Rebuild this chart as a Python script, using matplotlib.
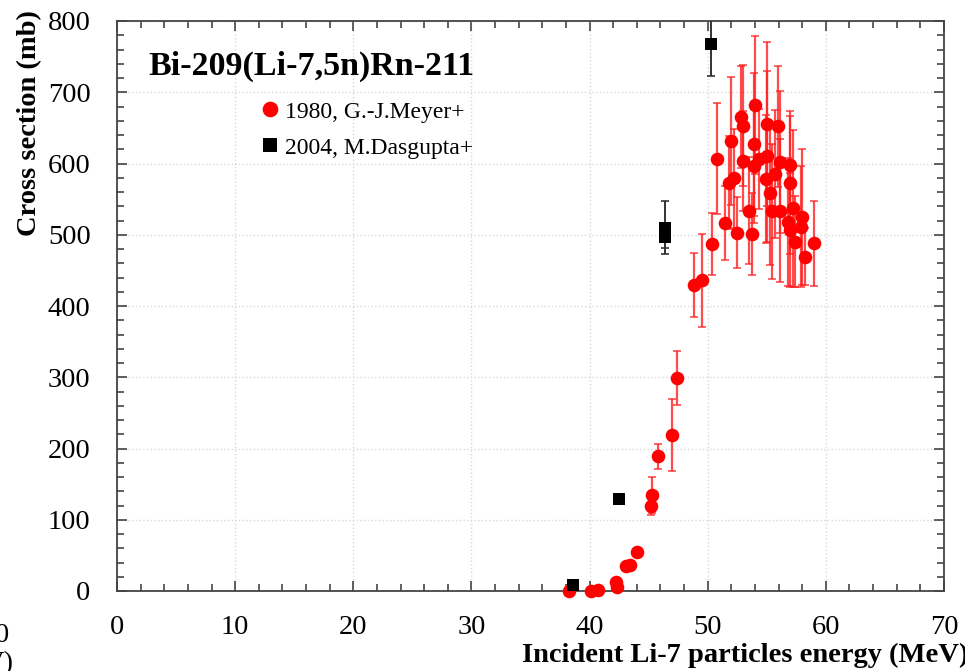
import numpy as np
import matplotlib
matplotlib.use("Agg")
import matplotlib.pyplot as plt
from matplotlib.ticker import MultipleLocator

plt.rcParams['font.family'] = ['Liberation Serif', 'DejaVu Serif']

# 1980, G.-J.Meyer+  (energy MeV, cross section mb, error mb)
meyerE = [38.3, 40.1, 40.7, 42.2, 42.3, 43.1, 43.4, 44.0, 45.2, 45.25,
          45.8, 47.0, 47.4, 48.8, 49.5, 50.4, 50.8, 51.5, 51.8, 51.95,
          52.2, 52.5, 52.85, 53.0, 53.0, 53.5, 53.75, 53.9, 54.0, 53.9,
          54.3, 55.0, 55.0, 54.97, 55.25, 55.4, 55.7, 55.98, 56.1, 56.1,
          57.0, 57.0, 57.2, 56.8, 57.0, 57.4, 57.97, 57.9, 58.2, 59.0]
meyerXS = [0, 0, 1, 12, 6, 35, 37, 55, 119, 135,
           189, 219, 299, 430, 436, 487, 607, 517, 573, 632,
           579, 503, 665, 653, 603, 534, 501, 627, 682, 597,
           606, 655, 610, 578, 558, 533, 585, 652, 602, 534,
           598, 573, 537, 518, 506, 490, 525, 511, 469, 488]
meyerErr = [0, 0, 0, 0, 0, 0, 0, 0, 12, 25,
            18, 50, 38, 45, 65, 43, 78, 52, 65, 90,
            70, 50, 72, 85, 70, 75, 58, 100, 97, 80,
            70, 115, 120, 90, 100, 95, 90, 85, 100, 100,
            68, 100, 110, 90, 80, 64, 95, 85, 40, 60]

# 2004, M.Dasgupta+
dasguptaE = [38.6, 42.5, 46.4, 46.4, 50.25]
dasguptaXS = [8, 129, 497, 510, 768]
dasguptaErr = [0, 0, 16, 37, 45]

W, H = 965, 671
fig = plt.figure(figsize=(W / 100, H / 100), dpi=100)
ax = fig.add_axes([117 / W, 1 - 591 / H, (944 - 117) / W, (591 - 21) / H])

ax.errorbar(meyerE, meyerXS, yerr=meyerErr, fmt='none', ecolor='#ff2020',
            elinewidth=1.6, capsize=3, capthick=1.2, alpha=0.8, zorder=2)
ax.plot(meyerE, meyerXS, 'o', color='#ff0000', markersize=9.8,
        markeredgewidth=0, zorder=3, clip_on=False,
        label='1980, G.-J.Meyer+')

ax.errorbar(dasguptaE, dasguptaXS, yerr=dasguptaErr, fmt='none',
            ecolor='#333333', elinewidth=1.4, capsize=3, capthick=1.2,
            zorder=4)
ax.plot(dasguptaE, dasguptaXS, 's', color='black', markersize=8.5,
        markeredgewidth=0, zorder=5, clip_on=False,
        label='2004, M.Dasgupta+')

ax.set_xlim(0, 70)
ax.set_ylim(0, 800)
ax.xaxis.set_major_locator(MultipleLocator(10))
ax.xaxis.set_minor_locator(MultipleLocator(2))
ax.yaxis.set_major_locator(MultipleLocator(100))
ax.yaxis.set_minor_locator(MultipleLocator(20))
ax.tick_params(which='both', direction='in', top=True, right=True,
               color='#444444', width=1.2)
ax.tick_params(which='major', length=7, labelsize=20.5)
ax.tick_params(axis='y', which='major', pad=19)
ax.tick_params(axis='x', which='major', pad=17)
ax.tick_params(which='minor', length=5)
ax.grid(True, which='major', color='#d8d8d8', linestyle=':', linewidth=1)
ax.set_axisbelow(True)
for s in ax.spines.values():
    s.set_color('#444444')
    s.set_linewidth(1.3)

fig.text(30 / W, 1 - 123 / H, 'Cross section (mb)', fontsize=20.5,
         fontweight='bold', rotation=90, ha='center', va='center')
fig.text(968 / W, 1 - 655 / H, 'Incident Li-7 particles energy (MeV)',
         fontsize=20.5, fontweight='bold', ha='right', va='center')

fig.text(148 / W, 1 - 66 / H, 'Bi-209(Li-7,5n)Rn-211', fontsize=24.5,
         fontweight='bold', ha='left', va='center')

ax.legend(loc='upper left', bbox_to_anchor=(263 / W, 1 - 101 / H),
          bbox_transform=fig.transFigure, frameon=False, fontsize=17,
          handlelength=0.6, handletextpad=0.35, labelspacing=0.62,
          borderpad=0, borderaxespad=0, markerscale=1.15)

# pieces of neighbouring panels cut off at the left edge
fig.text(9 / W, 1 - 636 / H, '0', fontsize=20.5, ha='right', va='center')
fig.text(14 / W, 1 - 664 / H, 'V)', fontsize=20.5, ha='right', va='center')

fig.savefig('out.png', dpi=100)
